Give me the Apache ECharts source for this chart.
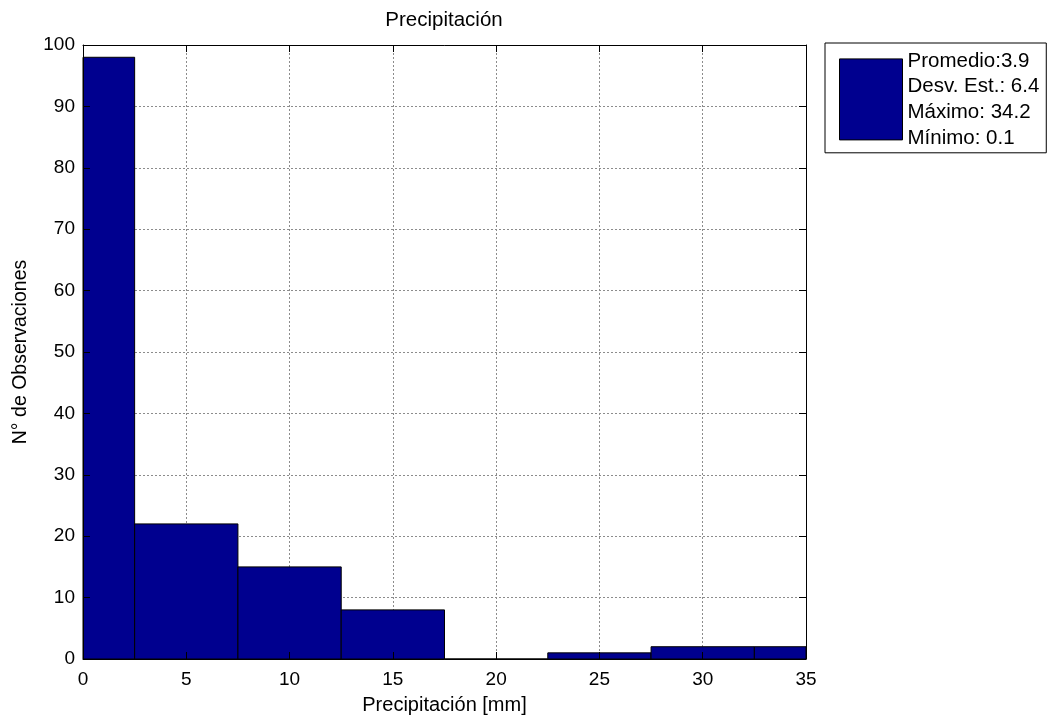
<!DOCTYPE html>
<html>
<head>
<meta charset="utf-8">
<style>
  html, body { margin: 0; padding: 0; background: #fff; }
  #chart { width: 1048px; height: 717px; }
</style>
<script src="https://cdn.jsdelivr.net/npm/echarts@6/dist/echarts.min.js"></script>
</head>
<body>
<div id="chart"></div>
<script>
// Histogram of daily precipitation: bin centres (mm) and observation counts
const binCenters = [0, 5, 10, 15, 20, 25, 30, 35];
const counts = [98, 22, 15, 8, 0, 1, 2, 2];
const binWidth = 5;

// Axis ranges and tick spacing
const xRange = [0, 35];
const xStep = 5;
const yRange = [0, 100];
const yStep = 10;

// Summary statistics shown in the legend
const statNames = ['Promedio:', 'Desv. Est.: ', 'Máximo: ', 'Mínimo: '];
const statValues = [3.9, 6.4, 34.2, 0.1];

const titleText = 'Precipitación';
const xName = 'Precipitación [mm]';
const yName = 'N° de Observaciones';

const barColor = '#00008F';
const font = '"Liberation Sans", Arial, sans-serif';

const legendName = statNames.map((s, i) => s + statValues[i]).join('\n');

const chart = echarts.init(document.getElementById('chart'), null, { renderer: 'canvas' });

// Tick-only axis used for the box frame (drawn above the bars)
function frameAxis(position, min, max, step) {
  return {
    type: 'value', position, min, max, interval: step, z: 10,
    axisLine: { show: true, onZero: false, lineStyle: { color: '#000', width: 1 } },
    axisTick: { show: true, inside: true, length: 7, lineStyle: { color: '#000', width: 1 } },
    axisLabel: { show: false },
    splitLine: { show: false }
  };
}

const option = {
  animation: false,
  backgroundColor: '#fff',
  textStyle: { fontFamily: font, color: '#000' },
  title: {
    text: titleText,
    left: 444,
    top: 10,
    textAlign: 'center',
    padding: 0,
    textStyle: { fontFamily: font, fontSize: 20.5, fontWeight: 'normal', color: '#000' }
  },
  grid: {
    left: 83, right: 242, top: 45, bottom: 58,
    containLabel: false,
    outerBoundsMode: 'none'
  },
  legend: {
    show: true,
    data: [legendName],
    left: 825,
    top: 43,
    orient: 'vertical',
    selectedMode: false,
    padding: [5, 7, 2, 14],
    itemGap: 0,
    itemWidth: 63,
    itemHeight: 81,
    icon: 'rect',
    borderColor: '#000',
    borderWidth: 1,
    backgroundColor: '#fff',
    itemStyle: { color: barColor, borderColor: '#000', borderWidth: 1 },
    textStyle: { fontFamily: font, fontSize: 20.5, color: '#000', lineHeight: 25.7 }
  },
  xAxis: [
    {
      type: 'value', position: 'bottom', min: xRange[0], max: xRange[1], interval: xStep,
      name: xName, nameLocation: 'middle', nameGap: 36,
      nameTextStyle: { fontFamily: font, fontSize: 20, color: '#000' },
      axisLine: { show: false },
      axisTick: { show: false },
      axisLabel: { fontFamily: font, fontSize: 19, color: '#000', margin: 11 },
      splitLine: { show: true, lineStyle: { color: '#8c8c8c', width: 1, type: [2, 2] } }
    },
    frameAxis('top', xRange[0], xRange[1], xStep),
    frameAxis('bottom', xRange[0], xRange[1], xStep)
  ],
  yAxis: [
    {
      type: 'value', position: 'left', min: yRange[0], max: yRange[1], interval: yStep,
      name: yName, nameLocation: 'middle', nameGap: 52, nameRotate: 90,
      nameTextStyle: { fontFamily: font, fontSize: 19.5, color: '#000' },
      axisLine: { show: false },
      axisTick: { show: false },
      axisLabel: { fontFamily: font, fontSize: 19, color: '#000', margin: 8 },
      splitLine: { show: true, lineStyle: { color: '#8c8c8c', width: 1, type: [2, 2] } }
    },
    frameAxis('left', yRange[0], yRange[1], yStep),
    frameAxis('right', yRange[0], yRange[1], yStep)
  ],
  series: [{
    name: legendName,
    type: 'custom',
    xAxisIndex: 0,
    yAxisIndex: 0,
    z: 2,
    itemStyle: { color: barColor, borderColor: '#000', borderWidth: 1 },
    encode: { x: 0, y: 1 },
    data: binCenters.map((c, i) => [c, counts[i]]),
    renderItem: function (params, api) {
      const c = api.value(0);
      const n = api.value(1);
      // clip each bin to the visible x range
      const lo = Math.max(c - binWidth / 2, xRange[0]);
      const hi = Math.min(c + binWidth / 2, xRange[1]);
      const p0 = api.coord([lo, n]);
      const p1 = api.coord([hi, 0]);
      return {
        type: 'rect',
        shape: { x: p0[0], y: p0[1], width: p1[0] - p0[0], height: p1[1] - p0[1] },
        style: { fill: barColor, stroke: '#000', lineWidth: 1 }
      };
    }
  }]
};

chart.setOption(option);
</script>
</body>
</html>
